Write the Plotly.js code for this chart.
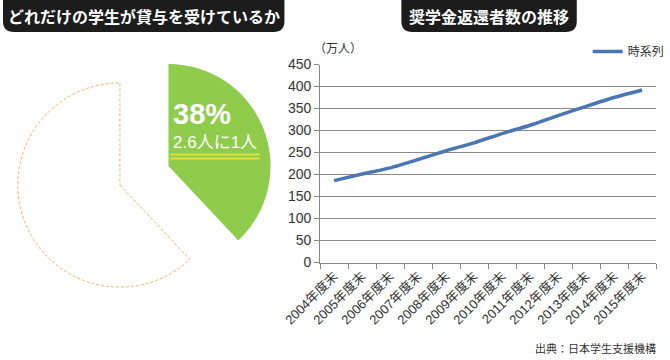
<!DOCTYPE html>
<html>
<head>
<meta charset="utf-8">
<script src="https://cdn.plot.ly/plotly-3.0.1.min.js"></script>
<style>html,body{margin:0;padding:0;background:#fff}#chart{width:670px;height:360px}</style>
</head>
<body>
<div id="chart"></div>
<script>
// ---- data ----
var pieLabels = ['貸与を受けている', 'それ以外'];
var pieValues = [38, 62];
var pieMainText = '38%';
var pieSubText = '2.6人に1人';

var years = ['2004年度末','2005年度末','2006年度末','2007年度末','2008年度末','2009年度末',
             '2010年度末','2011年度末','2012年度末','2013年度末','2014年度末','2015年度末'];
var repayers = [186, 201, 215, 234, 254, 272, 293, 312, 334, 355, 375, 392];
var seriesName = '時系列';
var yTicks = [0, 50, 100, 150, 200, 250, 300, 350, 400, 450];

var leftTitle = 'どれだけの学生が貸与を受けているか';
var rightTitle = '奨学金返還者数の推移';
var unitLabel = '（万人）';
var sourceLabel = '出典：日本学生支援機構';

// ---- layout helpers (pixel -> paper) ----
var W = 670, H = 360;
function px(x){ return x / W; }
function py(y){ return 1 - y / H; }
function pieDomain(cx, cy, r){ return {x:[px(cx - r), px(cx + r)], y:[py(cy + r), py(cy - r)]}; }
function roundBox(x0, x1, y0, y1, rad){
  return 'M' + px(x0) + ',' + py(y0) +
         ' L' + px(x1) + ',' + py(y0) +
         ' L' + px(x1) + ',' + py(y1 - rad) +
         ' Q' + px(x1) + ',' + py(y1) + ' ' + px(x1 - rad) + ',' + py(y1) +
         ' L' + px(x0 + rad) + ',' + py(y1) +
         ' Q' + px(x0) + ',' + py(y1) + ' ' + px(x0) + ',' + py(y1 - rad) + ' Z';
}

var FONT = 'Liberation Sans, Arial, Noto Sans CJK JP, sans-serif';
var CJK = 'Noto Sans CJK JP, Liberation Sans, sans-serif';
var GREEN = '#8fcc4c';
var CLEAR = 'rgba(0,0,0,0)';

var traces = [
  {
    type: 'pie', labels: pieLabels, values: pieValues, sort: false,
    direction: 'clockwise', rotation: 0, textinfo: 'none', hoverinfo: 'skip',
    showlegend: false, domain: pieDomain(121, 185, 103),
    marker: {colors: [CLEAR, '#ffffff'], line: {color: [CLEAR, '#f0b266'], width: 1}}
  },
  {
    type: 'pie', labels: pieLabels, values: pieValues, sort: false,
    direction: 'clockwise', rotation: 0, textinfo: 'none', hoverinfo: 'skip',
    showlegend: false, domain: pieDomain(170, 166, 103),
    marker: {colors: [GREEN, CLEAR], line: {width: 0}}
  },
  {
    type: 'scatter', mode: 'lines', x: years, y: repayers, name: seriesName,
    line: {color: '#4a76b4', width: 3.5, shape: 'spline', smoothing: 0.6},
    hoverinfo: 'skip'
  }
];

var layout = {
  width: W, height: H,
  margin: {l: 0, r: 0, t: 0, b: 0},
  paper_bgcolor: '#ffffff', plot_bgcolor: 'rgba(0,0,0,0)',
  font: {family: FONT, color: '#333333', size: 13},
  xaxis: {
    domain: [px(323), px(662)], type: 'category', range: [-0.5, years.length - 0.5],
    showgrid: false, showline: true, linecolor: '#888888', linewidth: 1,
    ticks: 'outside', tickson: 'boundaries', ticklen: 5, tickcolor: '#888888',
    tickangle: -45, tickfont: {family: FONT, size: 13, color: '#333333'},
    fixedrange: true
  },
  yaxis: {
    domain: [py(262.5), py(64.5)], range: [0, 450], tickvals: yTicks,
    showgrid: true, gridcolor: '#8a8a8a', gridwidth: 1, zeroline: false,
    showline: true, linecolor: '#888888', linewidth: 1,
    ticks: 'outside', ticklen: 5, tickcolor: '#888888',
    tickfont: {family: FONT, size: 14, color: '#333333'},
    fixedrange: true
  },
  showlegend: true,
  legend: {
    x: px(593), y: py(37), xanchor: 'left', yanchor: 'top',
    bgcolor: 'rgba(0,0,0,0)', font: {family: CJK, size: 12, color: '#333333'},
    itemwidth: 30
  },
  shapes: [
    {type: 'path', xref: 'paper', yref: 'paper', path: roundBox(3, 287, -5, 32, 11),
     fillcolor: '#1c1c1c', line: {width: 0}, layer: 'above'},
    {type: 'path', xref: 'paper', yref: 'paper', path: roundBox(405, 582, -5, 32, 11),
     fillcolor: '#1c1c1c', line: {width: 0}, layer: 'above'},
    {type: 'line', xref: 'paper', yref: 'paper', x0: px(172), x1: px(262), y0: py(154.5), y1: py(154.5),
     line: {color: '#e0e03c', width: 2}, layer: 'above'},
    {type: 'line', xref: 'paper', yref: 'paper', x0: px(172), x1: px(262), y0: py(158.5), y1: py(158.5),
     line: {color: '#e0e03c', width: 2}, layer: 'above'}
  ],
  annotations: [
    {xref: 'paper', yref: 'paper', x: px(145), y: py(16), text: '<b>' + leftTitle + '</b>',
     showarrow: false, xanchor: 'center', yanchor: 'middle',
     font: {family: CJK, size: 16, color: '#ffffff'}},
    {xref: 'paper', yref: 'paper', x: px(493), y: py(16), text: '<b>' + rightTitle + '</b>',
     showarrow: false, xanchor: 'center', yanchor: 'middle',
     font: {family: CJK, size: 16, color: '#ffffff'}},
    {xref: 'paper', yref: 'paper', x: px(173), y: py(114), text: '<b>' + pieMainText + '</b>',
     showarrow: false, xanchor: 'left', yanchor: 'middle',
     font: {family: FONT, size: 29, color: '#ffffff'}},
    {xref: 'paper', yref: 'paper', x: px(173), y: py(143), text: pieSubText,
     showarrow: false, xanchor: 'left', yanchor: 'middle',
     font: {family: FONT, size: 17, color: '#ffffff'}},
    {xref: 'paper', yref: 'paper', x: px(315), y: py(48), text: unitLabel,
     showarrow: false, xanchor: 'left', yanchor: 'middle',
     font: {family: CJK, size: 12, color: '#333333'}},
    {xref: 'paper', yref: 'paper', x: px(664), y: py(348), text: sourceLabel,
     showarrow: false, xanchor: 'right', yanchor: 'middle',
     font: {family: CJK, size: 11, color: '#333333'}}
  ]
};

Plotly.newPlot('chart', traces, layout, {staticPlot: true, displayModeBar: false}).then(function(gd){
  // dashed outline for the unfilled pie slice (styling only)
  var paths = gd.querySelectorAll('.pielayer .trace')[0].querySelectorAll('.slice path.surface');
  paths.forEach(function(p){ p.style.strokeDasharray = '3,2'; });
});
</script>
</body>
</html>
